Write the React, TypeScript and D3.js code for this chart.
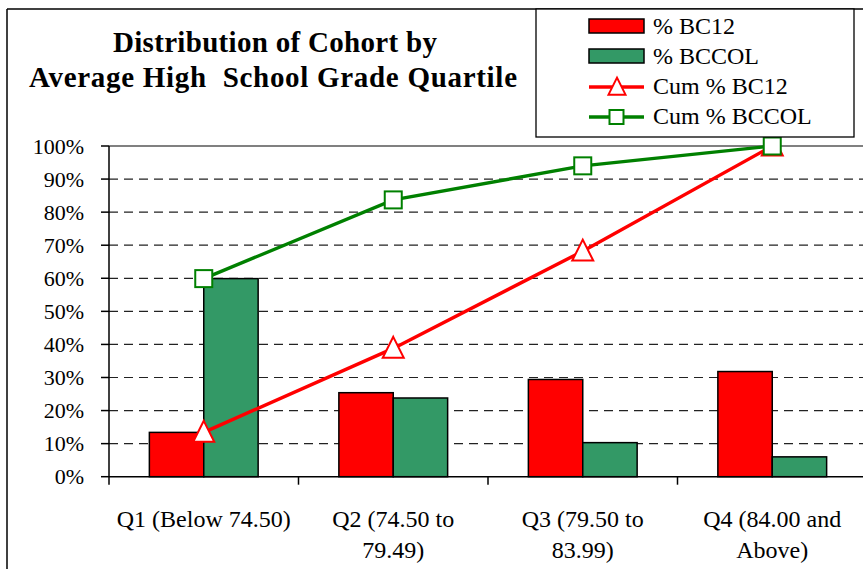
import React from "react";
import * as d3 from "d3";

const catLine1 = ["Q1 (Below 74.50)", "Q2 (74.50 to", "Q3 (79.50 to", "Q4 (84.00 and"];
const catLine2 = ["", "79.49)", "83.99)", "Above)"];
const categories = ["Q1", "Q2", "Q3", "Q4"];
const pctBC12 = [13.4, 25.4, 29.4, 31.8];
const pctBCCOL = [59.9, 23.8, 10.3, 6.0];
const cumBC12 = [13.4, 38.8, 68.2, 100];
const cumBCCOL = [59.9, 83.7, 94.0, 100];
const yTicks = [0, 10, 20, 30, 40, 50, 60, 70, 80, 90, 100];
const barSeries = ["% BC12", "% BCCOL"];
const legendLabels = ["% BC12", "% BCCOL", "Cum % BC12", "Cum % BCCOL"];
const titleLines = ["Distribution of Cohort by", "Average High  School Grade Quartile"];

const W = 863;
const H = 569;
const plot = { left: 109, right: 867, top: 146, bottom: 476.7 };
const RED = "#FF0000";
const BARGREEN = "#339966";
const LINEGREEN = "#008000";
const serif = "Liberation Serif, Tinos, Times New Roman, DejaVu Serif, serif";

export default function App() {
  const x = d3.scaleBand<string>().domain(categories).range([plot.left, plot.right]).padding(0);
  const bw = x.bandwidth();
  const xs = d3.scaleBand<string>().domain(barSeries).range([bw * 0.213, bw * 0.787]).padding(0);
  const y = d3.scaleLinear().domain([0, 100]).range([plot.bottom, plot.top]);
  const cx = (i: number) => (x(categories[i]) as number) + bw / 2;

  const line = d3
    .line<number>()
    .x((_, i) => cx(i))
    .y((d) => y(d));

  const tri = (px: number, py: number, s: number) =>
    `M${px},${py - s * 0.55} L${px + s / 2},${py + s * 0.45} L${px - s / 2},${py + s * 0.45} Z`;

  const barData = [pctBC12, pctBCCOL];
  const barColors = [RED, BARGREEN];
  const ts = { fontFamily: serif };

  return (
    <div style={{ position: "fixed", left: 0, top: 0, width: W, height: H, background: "#fff" }}>
      <svg width={W} height={H} style={{ display: "block", fontFamily: serif }}>
        <rect x={0} y={0} width={W} height={H} fill="#fff" />
        {/* outer frame */}
        <line x1={7} y1={9} x2={W} y2={9} stroke="#000" strokeWidth={1.5} />
        <line x1={7} y1={9} x2={7} y2={H} stroke="#000" strokeWidth={1.5} />

        {/* title */}
        <text
          x={113}
          y={51.5}
          fontSize={29}
          fontWeight="bold"
          textLength={324}
          lengthAdjust="spacing"
          style={{ ...ts, whiteSpace: "pre" }}
        >
          {titleLines[0]}
        </text>
        <text
          x={29}
          y={86.5}
          fontSize={29}
          fontWeight="bold"
          textLength={488}
          lengthAdjust="spacing"
          style={{ ...ts, whiteSpace: "pre" }}
        >
          {titleLines[1]}
        </text>

        {/* gridlines */}
        {yTicks
          .filter((t) => t > 0 && t < 100)
          .map((t) => (
            <line
              key={"g" + t}
              x1={plot.left}
              x2={plot.right}
              y1={y(t)}
              y2={y(t)}
              stroke="#222"
              strokeWidth={1.2}
              strokeDasharray="9,6"
            />
          ))}
        {/* plot top border */}
        <line x1={plot.left} x2={plot.right} y1={y(100)} y2={y(100)} stroke="#808080" strokeWidth={2} />

        {/* bars */}
        {barData.map((vals, si) =>
          vals.map((v, i) => (
            <rect
              key={`b${si}-${i}`}
              x={(x(categories[i]) as number) + (xs(barSeries[si]) as number)}
              y={y(v)}
              width={xs.bandwidth()}
              height={y(0) - y(v)}
              fill={barColors[si]}
              stroke="#000"
              strokeWidth={1.5}
            />
          ))
        )}

        {/* axes */}
        <line x1={plot.left} x2={plot.left} y1={plot.top} y2={plot.bottom + 8} stroke="#000" strokeWidth={1.5} />
        <line x1={plot.left} x2={plot.right} y1={plot.bottom} y2={plot.bottom} stroke="#000" strokeWidth={1.5} />
        {yTicks.map((t) => (
          <g key={"yt" + t}>
            <line x1={plot.left - 8} x2={plot.left} y1={y(t)} y2={y(t)} stroke="#000" strokeWidth={1.5} />
            <text x={84} y={y(t) + 7.5} fontSize={22} textAnchor="end" style={ts}>
              {t + "%"}
            </text>
          </g>
        ))}
        {categories.map((c) => (
          <line
            key={"xt" + c}
            x1={(x(c) as number) + bw}
            x2={(x(c) as number) + bw}
            y1={plot.bottom}
            y2={plot.bottom + 8}
            stroke="#000"
            strokeWidth={1.5}
          />
        ))}
        {categories.map((c, i) => (
          <text key={"xl" + c} x={cx(i)} y={526.5} fontSize={24} textAnchor="middle" style={ts}>
            <tspan x={cx(i)}>{catLine1[i]}</tspan>
            {catLine2[i] ? (
              <tspan x={cx(i)} dy={31}>
                {catLine2[i]}
              </tspan>
            ) : null}
          </text>
        ))}

        {/* cumulative lines */}
        <path d={line(cumBC12) as string} fill="none" stroke={RED} strokeWidth={3.4} />
        {cumBC12.map((v, i) => (
          <path key={"tm" + i} d={tri(cx(i), y(v), 21)} fill="#fff" stroke={RED} strokeWidth={2} />
        ))}
        <path d={line(cumBCCOL) as string} fill="none" stroke={LINEGREEN} strokeWidth={3.4} />
        {cumBCCOL.map((v, i) => (
          <rect
            key={"sm" + i}
            x={cx(i) - 8.5}
            y={y(v) - 8.5}
            width={17}
            height={17}
            fill="#fff"
            stroke={LINEGREEN}
            strokeWidth={2}
          />
        ))}

        {/* legend */}
        <rect x={536} y={9} width={318} height={128} fill="#fff" stroke="#000" strokeWidth={1.3} />
        <rect x={589} y={19} width={55} height={14} fill={RED} stroke="#000" strokeWidth={1.5} />
        <rect x={589} y={49} width={55} height={14} fill={BARGREEN} stroke="#000" strokeWidth={1.5} />
        <line x1={589} x2={644} y1={87} y2={87} stroke={RED} strokeWidth={3.4} />
        <path d={tri(617, 87, 17)} fill="#fff" stroke={RED} strokeWidth={2} />
        <line x1={589} x2={644} y1={117} y2={117} stroke={LINEGREEN} strokeWidth={3.4} />
        <rect x={609.5} y={110} width={14} height={14} fill="#fff" stroke={LINEGREEN} strokeWidth={2} />
        {legendLabels.map((l, i) => (
          <text key={"lg" + i} x={653} y={33.5 + i * 30} fontSize={24} style={ts}>
            {l}
          </text>
        ))}
      </svg>
    </div>
  );
}
